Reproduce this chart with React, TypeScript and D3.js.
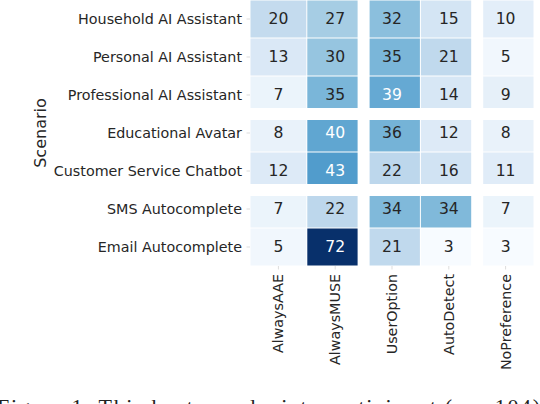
import React from "react";
import * as d3 from "d3";

const scenarios = [
  "Household AI Assistant",
  "Personal AI Assistant",
  "Professional AI Assistant",
  "Educational Avatar",
  "Customer Service Chatbot",
  "SMS Autocomplete",
  "Email Autocomplete",
];
const options = ["AlwaysAAE", "AlwaysMUSE", "UserOption", "AutoDetect", "NoPreference"];

const alwaysAAE = [20, 13, 7, 8, 12, 7, 5];
const alwaysMUSE = [27, 30, 35, 40, 43, 22, 72];
const userOption = [32, 35, 39, 36, 22, 34, 21];
const autoDetect = [15, 21, 14, 12, 16, 34, 3];
const noPreference = [10, 5, 9, 8, 11, 7, 3];

const seriesList = [alwaysAAE, alwaysMUSE, userOption, autoDetect, noPreference];

const colGapsAfter = [1, 3];
const rowGapsAfter = [2, 4];

const caption = "Figure 1: This heatmap depicts participant (n = 104)";

export default function App() {
  const W = 540;
  const H = 404;
  const left = 250;
  const right = 534;
  const top = 0;
  const bottom = 266;
  const fs = 14.3;
  const annotFs = 15.6;
  const font = "DejaVu Sans";

  const x = d3.scaleBand<string>().domain(options).range([left, right]).padding(0);
  const y = d3.scaleBand<string>().domain(scenarios).range([top, bottom]).padding(0);

  const all = seriesList.flat();
  const color = d3
    .scaleSequential(d3.interpolateBlues)
    .domain([d3.min(all) as number, d3.max(all) as number]);

  const lum = (c: string) => {
    const rgb = d3.rgb(c);
    const f = (v: number) => {
      const s = v / 255;
      return s <= 0.03928 ? s / 12.92 : Math.pow((s + 0.055) / 1.055, 2.4);
    };
    return 0.2126 * f(rgb.r) + 0.7152 * f(rgb.g) + 0.0722 * f(rgb.b);
  };

  const cells: any[] = [];
  options.forEach((opt, ci) => {
    scenarios.forEach((sc, ri) => {
      const v = seriesList[ci][ri];
      cells.push({ opt, sc, v, fill: color(v) });
    });
  });

  const gapW = 12;

  return (
    <svg
      width={W}
      height={H}
      style={{ position: "absolute", left: 0, top: 0, background: "#fff" }}
    >
      <rect x={0} y={0} width={W} height={H} fill="#fff" />
      {cells.map((c, i) => (
        <rect
          key={"c" + i}
          x={(x(c.opt) as number) + 0.5}
          y={(y(c.sc) as number) + 0.5}
          width={x.bandwidth() - 1}
          height={y.bandwidth() - 1}
          fill={c.fill}
        />
      ))}
      {colGapsAfter.map((ci) => {
        const bx = x(options[ci + 1]) as number;
        return (
          <rect key={"cg" + ci} x={bx - gapW / 2} y={top} width={gapW} height={bottom - top} fill="#fff" />
        );
      })}
      {rowGapsAfter.map((ri) => {
        const by = y(scenarios[ri + 1]) as number;
        return (
          <rect key={"rg" + ri} x={left} y={by - gapW / 2} width={right - left} height={gapW} fill="#fff" />
        );
      })}
      {cells.map((c, i) => (
        <text
          key={"t" + i}
          x={(x(c.opt) as number) + x.bandwidth() / 2}
          y={(y(c.sc) as number) + y.bandwidth() / 2}
          textAnchor="middle"
          dominantBaseline="central"
          fontFamily={font}
          fontSize={annotFs}
          fill={lum(c.fill) > 0.408 ? "#262626" : "#ffffff"}
        >
          {c.v}
        </text>
      ))}
      {scenarios.map((sc) => (
        <g key={"yl" + sc}>
          <line
            x1={left - 3.5}
            x2={left}
            y1={(y(sc) as number) + y.bandwidth() / 2}
            y2={(y(sc) as number) + y.bandwidth() / 2}
            stroke="#dddddd"
            strokeWidth={1}
          />
          <text
            x={242}
            y={(y(sc) as number) + y.bandwidth() / 2}
            textAnchor="end"
            dominantBaseline="central"
            fontFamily={font}
            fontSize={fs}
            fill="#262626"
          >
            {sc}
          </text>
        </g>
      ))}
      {options.map((opt) => {
        const cx = (x(opt) as number) + x.bandwidth() / 2;
        return (
          <g key={"xl" + opt}>
            <line x1={cx} x2={cx} y1={bottom} y2={bottom + 3.5} stroke="#dddddd" strokeWidth={1} />
            <text
              transform={`translate(${cx},274) rotate(-90)`}
              textAnchor="end"
              dominantBaseline="central"
              fontFamily={font}
              fontSize={fs}
              fill="#262626"
            >
              {opt}
            </text>
          </g>
        );
      })}
      <text
        transform={`translate(46,${(top + bottom) / 2}) rotate(-90)`}
        textAnchor="middle"
        fontFamily={font}
        fontSize={16}
        fill="#262626"
      >
        Scenario
      </text>
      <text
        x={-3}
        y={414}
        fontFamily="Liberation Serif"
        fontSize={22}
        textLength={543}
        lengthAdjust="spacing"
        fill="#222"
      >
        {caption}
      </text>
    </svg>
  );
}
